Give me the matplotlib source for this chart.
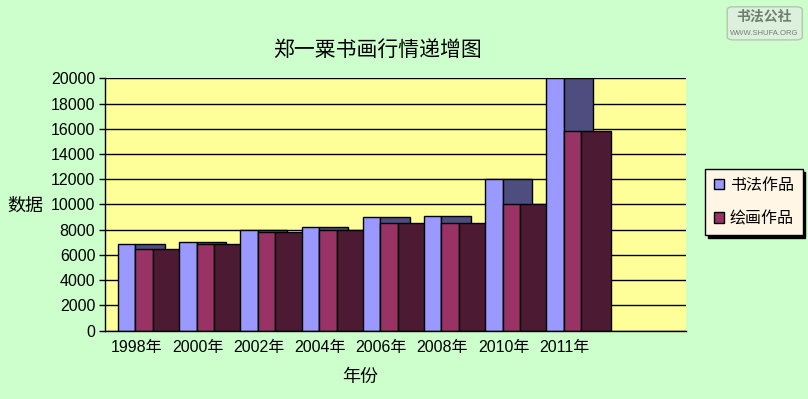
import numpy as np
import matplotlib
matplotlib.use('Agg')
import matplotlib.pyplot as plt
from matplotlib.patches import Patch, FancyBboxPatch

plt.rcParams['font.family'] = ['Liberation Sans', 'Noto Sans CJK SC']

# Data
years = ['1998年', '2000年', '2002年', '2004年', '2006年', '2008年', '2010年', '2011年']
calligraphy = [6850, 7000, 8000, 8200, 9000, 9100, 12000, 20000]
painting = [6500, 6850, 7800, 8000, 8500, 8500, 10000, 15850]

# Colours
bg = '#CCFFCC'
plot_bg = '#FFFF99'
blue = '#9999FF'
blue_side = '#4D4D80'
maroon = '#993366'
maroon_side = '#4D1A33'

fig = plt.figure(figsize=(8.08, 3.99), dpi=100, facecolor=bg)
ax = fig.add_axes([0.13, 0.1712, 0.7187, 0.6326])
ax.set_facecolor(plot_bg)

wf = 0.285   # front face width
ws = 0.48    # side (depth) width
x = np.arange(len(years))

for i in range(len(years)):
    ax.bar(x[i], calligraphy[i], width=wf, align='edge', color=blue,
           edgecolor='black', linewidth=1, zorder=3)
    ax.bar(x[i] + wf, calligraphy[i], width=ws, align='edge', color=blue_side,
           edgecolor='black', linewidth=1, zorder=3)
    ax.bar(x[i] + wf, painting[i], width=wf, align='edge', color=maroon,
           edgecolor='black', linewidth=1, zorder=3)
    ax.bar(x[i] + 2 * wf, painting[i], width=ws, align='edge', color=maroon_side,
           edgecolor='black', linewidth=1, zorder=3)

ax.set_xlim(-0.212, 9.276)
ax.set_ylim(0, 20000)
ax.set_yticks(np.arange(0, 20001, 2000))
ax.yaxis.grid(True, color='black', linewidth=1, zorder=0)
ax.set_axisbelow(True)
ax.set_xticks(x + 0.3)
ax.set_xticklabels(years, fontsize=11.5)
ax.tick_params(axis='x', length=0, pad=7)
ax.tick_params(axis='y', length=4, width=1, labelsize=11.5, pad=3, direction='out')
for s in ['top', 'right']:
    ax.spines[s].set_visible(False)
ax.spines['left'].set_linewidth(1)
ax.spines['bottom'].set_linewidth(1)
ax.spines['left'].set_zorder(5)
ax.spines['bottom'].set_zorder(5)

fig.text(0.467, 0.875, '郑一粟书画行情递增图', fontsize=15, ha='center', va='center')
fig.text(0.031, 0.483, '数据', fontsize=13, ha='center', va='center')
fig.text(0.446, 0.053, '年份', fontsize=13, ha='center', va='center')

handles = [Patch(facecolor=blue, edgecolor='black', label='书法作品'),
           Patch(facecolor=maroon, edgecolor='black', label='绘画作品')]
leg = fig.legend(handles=handles, loc='center', bbox_to_anchor=(0.933, 0.494),
                 fontsize=11.5, frameon=True, fancybox=False,
                 shadow={'color': 'black', 'alpha': 1},
                 handlelength=0.65, handleheight=0.65, handletextpad=0.35,
                 borderpad=0.55, labelspacing=1.15, borderaxespad=0)
leg.get_frame().set_facecolor('#FFF6E6')
leg.get_frame().set_edgecolor('black')
leg.get_frame().set_linewidth(1)
leg.get_frame().set_alpha(1)

# watermark box in the top right corner
wm = FancyBboxPatch((0.9, 0.9), 0.093, 0.083, boxstyle='round,pad=0,rounding_size=0.008',
                    transform=fig.transFigure, facecolor='#DDF0DD', edgecolor='#B0C8B0',
                    linewidth=1)
fig.patches.append(wm)
fig.text(0.946, 0.958, '书法公社', fontsize=10, color='#6F7F6F', ha='center', va='center',
         fontweight='bold')
fig.text(0.946, 0.915, 'WWW.SHUFA.ORG', fontsize=5.5, color='#6F7F6F', ha='center', va='center')

fig.savefig('out.png', dpi=100, facecolor=bg)
